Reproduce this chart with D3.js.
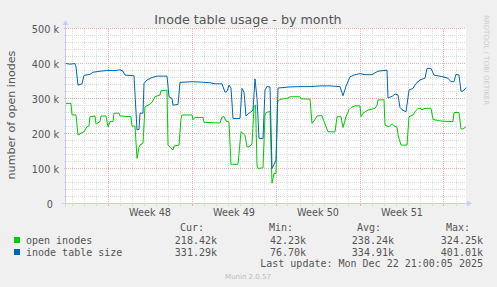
<!DOCTYPE html>
<html><head><meta charset="utf-8">
<script src="https://cdn.jsdelivr.net/npm/d3@7/dist/d3.min.js"></script>
<style>body{margin:0;background:#F0F0F0;overflow:hidden}</style>
</head><body>
<script>
// ---- data (values in thousands, times in hours since graph start) ----
const startISO = "2025-11-19T13:00:00Z";
const spanHours = 800;
const tableHours = [0,8,18,20,24,32,36,48,54,68,82,98,108,114,118,136,142,146,148,154,156,162,172,182,202,206,212,214,224,228,252,268,288,298,312,318,322,326,330,334,348,352,356,360,366,370,374,378,382,386,394,398,402,408,412,416,420,424,448,468,488,508,528,548,554,560,568,578,588,598,612,624,642,644,652,658,664,668,672,680,686,694,700,708,718,722,730,736,754,764,770,776,780,786,790,794,800];
const tableValues = [400,398,400,390,338,342,366,369,375,378,380,380,382,378,367,365,210,212,258,258,343,353,360,364,364,305,300,281,283,346,348,347,345,342,342,318,320,338,330,243,243,329,318,250,258,262,267,356,300,186,186,324,334,333,100,112,124,330,333,334,334,336,336,334,308,335,362,368,371,368,368,378,381,302,306,313,310,274,268,262,324,329,343,353,358,386,386,367,362,358,348,348,369,367,321,321,331];
const openHours = [0,10,12,20,24,30,36,42,46,48,58,60,68,70,80,84,88,94,96,106,108,130,132,138,142,146,148,154,158,166,172,178,188,190,202,204,210,214,216,226,230,232,252,254,258,274,276,308,312,316,320,326,330,344,350,354,358,362,366,372,376,379,382,384,394,398,400,408,412,416,420,423,428,442,448,468,470,488,492,498,502,512,516,524,538,542,550,554,560,566,570,578,588,590,594,604,618,622,624,636,638,646,652,656,662,664,670,682,686,694,698,704,708,712,718,730,734,748,768,774,776,786,790,794,800];
const openValues = [286,286,253,253,196,201,205,219,222,248,250,227,234,250,250,219,234,234,258,258,250,248,221,221,129,160,167,172,277,282,289,305,310,322,324,167,158,153,164,167,243,253,253,239,246,246,232,230,247,248,236,232,112,112,205,200,195,162,162,170,277,281,110,100,102,253,260,263,58,86,86,290,298,300,305,305,299,298,229,240,250,251,234,205,205,248,248,217,248,268,274,279,279,248,258,267,272,281,296,296,224,219,228,222,218,196,167,167,248,253,262,272,272,268,272,272,240,236,234,234,260,260,213,213,219];
const yTickValues = [0,100,200,300,400,500];
const yTickLabels = ["0\u00a0\u00a0","100 k","200 k","300 k","400 k","500 k"];
const legendNames = ["open inodes","inode table size"];
const legendCur = ["218.42k","331.29k"];
const legendMin = ["42.23k","76.70k"];
const legendAvg = ["238.24k","334.91k"];
const legendMax = ["324.25k","401.01k"];
const titleText = "Inode table usage - by month";
const yLabelText = "number of open inodes";
const lastUpdateText = "Last update: Mon Dec 22 21:00:05 2025";
const versionText = "Munin 2.0.57";
const watermarkText = "RRDTOOL / TOBI OETIKER";

// ---- styles ----
const seriesColors = ["#00CC00","#0066B3"];
const textColor = "#555555";
const W = 497, H = 287;
const x0 = 66, x1 = 466, yTop = 28.5, yBot = 203.5;

const start = new Date(startISO);
const end = d3.utcHour.offset(start, spanHours);
const x = d3.scaleUtc().domain([start, end]).range([x0, x1]);
const y = d3.scaleLinear().domain([0, 500]).range([yBot, yTop]);

const svg = d3.select("body").append("svg").attr("width", W).attr("height", H)
  .style("font-family", "'DejaVu Sans', sans-serif");
svg.append("rect").attr("width", W).attr("height", H).attr("fill", "#F0F0F0");
svg.append("rect").attr("x", x0).attr("y", yTop - 0.5).attr("width", x1 - x0).attr("height", yBot - yTop + 1).attr("fill", "#FFFFFF");

const minorCol = "#DCDCDC", majorCol = "#EDB0B0";
const grid = svg.append("g").attr("shape-rendering", "crispEdges");
// horizontal
d3.range(0, 501, 20).forEach(v => {
  const major = v % 100 === 0;
  grid.append("line").attr("x1", x0).attr("x2", x1).attr("y1", y(v)).attr("y2", y(v))
    .attr("stroke", major ? majorCol : minorCol).attr("stroke-dasharray", "1,1");
  grid.append("line").attr("x1", x0 - 2).attr("x2", x0 + 1).attr("y1", y(v)).attr("y2", y(v))
    .attr("stroke", major ? majorCol : minorCol);
});
// vertical
d3.utcDay.range(start, end).forEach(d => {
  const major = d.getUTCDay() === 0;
  const xx = Math.round(x(d)) + 0.5;
  grid.append("line").attr("x1", xx).attr("x2", xx).attr("y1", yTop).attr("y2", yBot)
    .attr("stroke", major ? majorCol : minorCol).attr("stroke-dasharray", "1,1");
  grid.append("line").attr("x1", xx).attr("x2", xx).attr("y1", yBot - 1).attr("y2", yBot + 2)
    .attr("stroke", major ? majorCol : minorCol);
});

// axes lines + arrows
const axCol = "#C8CEF5";
svg.append("line").attr("x1", 62).attr("x2", 468).attr("y1", yBot).attr("y2", yBot).attr("stroke", axCol);
svg.append("path").attr("d", `M467,${yBot-3}L472,${yBot}L467,${yBot+3}Z`).attr("fill", axCol);
svg.append("line").attr("x1", x0 - 0.5).attr("x2", x0 - 0.5).attr("y1", yBot + 3).attr("y2", 24).attr("stroke", axCol);
svg.append("path").attr("d", `M${x0-3.5},25L${x0-0.5},20L${x0+2.5},25Z`).attr("fill", axCol);

// series lines
const line = d3.line().x(d => x(d[0])).y(d => y(d[1]));
const toPts = (hs, vs) => hs.map((h, i) => [d3.utcHour.offset(start, h), vs[i]]);
svg.append("path").datum(toPts(openHours, openValues)).attr("d", line)
  .attr("fill", "none").attr("stroke", seriesColors[0]).attr("stroke-width", 1);
svg.append("path").datum(toPts(tableHours, tableValues)).attr("d", line)
  .attr("fill", "none").attr("stroke", seriesColors[1]).attr("stroke-width", 1);

// y axis labels
const yAxis = d3.axisLeft(y).tickValues(yTickValues).tickSize(0).tickPadding(7)
  .tickFormat((d, i) => yTickLabels[i]);
const gy = svg.append("g").attr("transform", `translate(${x0},0)`).call(yAxis);
gy.select(".domain").remove();
gy.selectAll("text").attr("fill", textColor).style("font-size", "9.7px")
  .style("font-family", "'DejaVu Sans', sans-serif").attr("dy", "0.36em");

// x axis week labels
const weekMids = d3.utcSunday.range(d3.utcDay.offset(start, -7), end)
  .map(s => new Date(s.getTime() + 3.5 * 864e5)).filter(m => m >= start && m <= end);
const xAxis = d3.axisBottom(x).tickValues(weekMids).tickSize(0).tickPadding(5.4)
  .tickFormat(d3.utcFormat("Week %V"));
const gx = svg.append("g").attr("transform", `translate(0,${yBot})`).call(xAxis);
gx.select(".domain").remove();
gx.selectAll("text").attr("fill", textColor).style("font-size", "9.7px")
  .style("font-family", "'DejaVu Sans', sans-serif");

// title & labels
svg.append("text").attr("x", 248).attr("y", 24).attr("text-anchor", "middle")
  .attr("fill", textColor).style("font-size", "12.7px").text(titleText);
svg.append("text").attr("transform", "translate(15,115) rotate(-90)").attr("text-anchor", "middle")
  .attr("fill", textColor).style("font-size", "11.1px").text(yLabelText);
svg.append("text").attr("transform", "translate(484,15) rotate(90)")
  .attr("fill", "#CCCCCC").style("font-size", "7px").text(watermarkText);

// legend
const mono = "'DejaVu Sans Mono', monospace";
const leg = svg.append("g").style("font-family", mono).style("font-size", "10px").attr("fill", textColor);
const headers = ["Cur:","Min:","Avg:","Max:"], headerX = [204, 293, 381, 470];
headers.forEach((h, i) => leg.append("text").attr("x", headerX[i]).attr("y", 230.5).attr("text-anchor", "end").text(h));
const colX = [217, 306, 394, 483];
[legendCur, legendMin, legendAvg, legendMax].forEach((col, ci) => {
  col.forEach((v, ri) => leg.append("text").attr("x", colX[ci]).attr("y", 243.5 + ri * 12)
    .attr("text-anchor", "end").text(v));
});
legendNames.forEach((n, i) => {
  leg.append("rect").attr("x", 14).attr("y", 237 + i * 12).attr("width", 6).attr("height", 6).attr("fill", seriesColors[i]);
  leg.append("text").attr("x", 26).attr("y", 243.5 + i * 12).text(n);
});
leg.append("text").attr("x", 483).attr("y", 267).attr("text-anchor", "end").text(lastUpdateText);
svg.append("text").attr("x", 248).attr("y", 278.5).attr("text-anchor", "middle")
  .attr("fill", "#BBBBBB").style("font-size", "7px").text(versionText);
</script>
</body></html>
